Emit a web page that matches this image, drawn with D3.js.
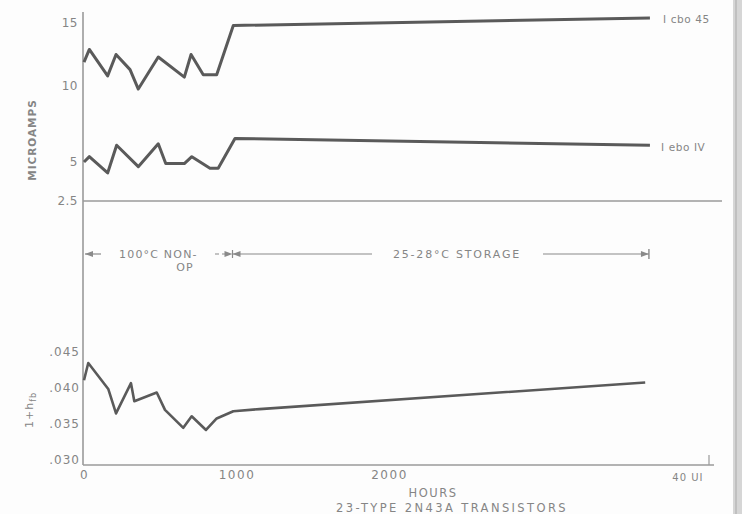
<!DOCTYPE html>
<html>
<head>
<meta charset="utf-8">
<script src="https://cdn.jsdelivr.net/npm/d3@7"></script>
<style>
  html, body { margin: 0; padding: 0; background: #fdfdfd; }
  svg { display: block; }
  text { font-family: "DejaVu Sans", "Liberation Sans", sans-serif; fill: #858585; }
</style>
</head>
<body>
<svg id="chart" width="742" height="514"></svg>
<script>
// Leakage currents (microamps) and 1+h_fb versus hours, 23 type 2N43A transistors
const hoursIcbo = [0, 35, 155, 210, 302, 356, 487, 658, 702, 782, 870, 979, 3711];
const icbo45 = [11.9, 12.9, 10.8, 12.5, 11.3, 9.8, 12.3, 10.7, 12.5, 10.9, 10.9, 14.8, 15.4];

const hoursIebo = [0, 35, 155, 214, 356, 487, 536, 658, 707, 826, 880, 990, 3711];
const iebo1 = [5.0, 5.35, 4.3, 6.1, 4.7, 6.2, 4.9, 4.9, 5.35, 4.6, 4.6, 6.55, 6.1];

const hoursHfb = [0, 28, 159, 210, 308, 330, 477, 531, 651, 706, 800, 870, 979, 1151, 3680];
const hfb = [0.0410, 0.0434, 0.0398, 0.0364, 0.0406, 0.0381, 0.0393, 0.0369, 0.0344, 0.0360, 0.0341, 0.0357, 0.0367, 0.0370, 0.0407];

const microampTicks = [15, 10, 5, 2.5];
const microampLabels = ["15", "10", "5", "2.5"];
const hfbTicks = [0.045, 0.040, 0.035, 0.030];
const hfbLabels = [".045", ".040", ".035", ".030"];
const hourTicks = [0, 1000, 2000];
const hourLabels = ["0", "1000", "2000"];

const seriesNames = ["I cbo 45", "I ebo IV"];

const svg = d3.select("#chart");

// scales
const x = d3.scaleLinear().domain([0, 2000]).range([84, 389]);
// the lettered current scale is hand-spaced, so it is piecewise linear
const yTop = d3.scaleLinear().domain([2.5, 5, 10, 15]).range([201, 162, 86, 23]);
const yBot = d3.scaleLinear().domain([0.030, 0.045]).range([459.5, 351.5]);

const lineCol = "#5a5a5a";
const axisCol = "#9a9a9a";

// right edge strip
svg.append("rect").attr("x", 733).attr("y", 0).attr("width", 9).attr("height", 514).attr("fill", "#d6d6d6");
svg.append("line").attr("x1", 736).attr("x2", 736).attr("y1", 0).attr("y2", 514)
  .attr("stroke", "#b8b8b8").attr("stroke-width", 1.5);

// long vertical axis shared by both panels
svg.append("line").attr("x1", 83).attr("x2", 83).attr("y1", 12).attr("y2", 465)
  .attr("stroke", axisCol).attr("stroke-width", 1.6);

// 2.5 microamp baseline
svg.append("line").attr("x1", 83).attr("x2", 722).attr("y1", yTop(2.5)).attr("y2", yTop(2.5))
  .attr("stroke", axisCol).attr("stroke-width", 1.6);

// hours baseline
svg.append("line").attr("x1", 83).attr("x2", 714).attr("y1", 465).attr("y2", 465)
  .attr("stroke", axisCol).attr("stroke-width", 1.6);
svg.append("line").attr("x1", 709).attr("x2", 709).attr("y1", 455).attr("y2", 465)
  .attr("stroke", axisCol).attr("stroke-width", 1.2);

// left axis labels (top panel)
const axTop = svg.append("g").attr("transform", "translate(83,0)")
  .call(d3.axisLeft(yTop).tickValues(microampTicks).tickSize(0).tickPadding(5)
    .tickFormat((d, i) => microampLabels[i]));
axTop.select(".domain").remove();
axTop.selectAll("text").attr("font-size", 12).attr("fill", "#858585")
  .style("font-family", "'DejaVu Sans', sans-serif").attr("letter-spacing", 0.5);

// left axis labels (bottom panel)
const axBot = svg.append("g").attr("transform", "translate(83,0)")
  .call(d3.axisLeft(yBot).tickValues(hfbTicks).tickSize(0).tickPadding(3)
    .tickFormat((d, i) => hfbLabels[i]));
axBot.select(".domain").remove();
axBot.selectAll("text").attr("font-size", 12).attr("fill", "#8a8a8a")
  .style("font-family", "'DejaVu Sans', sans-serif").attr("letter-spacing", 1);

// hours axis labels
const axX = svg.append("g").attr("transform", "translate(0,465)")
  .call(d3.axisBottom(x).tickValues(hourTicks).tickSize(0).tickPadding(5)
    .tickFormat((d, i) => hourLabels[i]));
axX.select(".domain").remove();
axX.selectAll("text").attr("font-size", 12).attr("fill", "#858585")
  .style("font-family", "'DejaVu Sans', sans-serif").attr("letter-spacing", 1.5);

svg.append("text").attr("x", x(3960)).attr("y", 481).attr("text-anchor", "middle")
  .attr("font-size", 10).attr("fill", "#a5a5a5").attr("letter-spacing", 1).text("40 UI");

// axis titles
svg.append("text").attr("transform", "translate(36,140) rotate(-90)").attr("text-anchor", "middle")
  .attr("font-size", 10.5).attr("font-weight", "bold").attr("fill", "#8c8c8c")
  .attr("letter-spacing", 1).text("MICROAMPS");

const hLab = svg.append("text").attr("transform", "translate(33,410) rotate(-90)")
  .attr("text-anchor", "middle").attr("font-size", 11).attr("fill", "#9a9a9a").attr("letter-spacing", 1);
hLab.append("tspan").text("1+h");
hLab.append("tspan").attr("font-size", 8).attr("dy", 3).text("fb");

svg.append("text").attr("x", 433).attr("y", 497).attr("text-anchor", "middle")
  .attr("font-size", 11.5).attr("fill", "#7c7c7c").attr("letter-spacing", 1.5).text("HOURS");
svg.append("text").attr("x", 452).attr("y", 512).attr("text-anchor", "middle")
  .attr("font-size", 11.5).attr("fill", "#7c7c7c").attr("letter-spacing", 2.4)
  .text("23-TYPE 2N43A TRANSISTORS");

// data lines
const lineTop = (hrs) => d3.line().x((d, i) => x(hrs[i])).y(d => yTop(d));
svg.append("path").datum(icbo45).attr("d", lineTop(hoursIcbo))
  .attr("fill", "none").attr("stroke", lineCol).attr("stroke-width", 3).attr("stroke-linejoin", "round");
svg.append("path").datum(iebo1).attr("d", lineTop(hoursIebo))
  .attr("fill", "none").attr("stroke", lineCol).attr("stroke-width", 3).attr("stroke-linejoin", "round");
svg.append("path").datum(hfb)
  .attr("d", d3.line().x((d, i) => x(hoursHfb[i])).y(d => yBot(d)))
  .attr("fill", "none").attr("stroke", lineCol).attr("stroke-width", 2.6).attr("stroke-linejoin", "round");

// series labels at the line ends
svg.append("text").attr("x", 663).attr("y", yTop(icbo45[icbo45.length - 1]) + 5)
  .attr("font-size", 10.5).attr("fill", "#7a7a7a").attr("letter-spacing", 0.6).text(seriesNames[0]);
svg.append("text").attr("x", 661).attr("y", yTop(iebo1[iebo1.length - 1]) + 6)
  .attr("font-size", 10.5).attr("fill", "#a0a0a0").attr("letter-spacing", 0.6).text(seriesNames[1]);

// test-condition spans
const spanY = 254;
const ann = svg.append("g").attr("stroke", "#8a8a8a").attr("fill", "#8a8a8a");
function arrowHead(px, dir) {
  ann.append("path").attr("stroke", "none")
    .attr("d", `M${px},${spanY} l${-dir * 8},-3 l0,6 z`);
}
const xSplit = x(1000) - 4;
const xEnd = x(3711) - 1;
// 100 C non-operating span
ann.append("line").attr("x1", 85).attr("x2", 101).attr("y1", spanY).attr("y2", spanY).attr("stroke-width", 1.2);
arrowHead(85, -1);
ann.append("line").attr("x1", 215).attr("x2", 228).attr("y1", spanY).attr("y2", spanY)
  .attr("stroke-width", 1.2).attr("stroke-dasharray", "4,3");
arrowHead(xSplit, 1);
ann.append("line").attr("x1", xSplit).attr("x2", xSplit).attr("y1", spanY - 4).attr("y2", spanY + 4).attr("stroke-width", 1.2);
arrowHead(xSplit, -1);
// storage span
ann.append("line").attr("x1", xSplit).attr("x2", 372).attr("y1", spanY).attr("y2", spanY).attr("stroke-width", 1.2);
ann.append("line").attr("x1", 543).attr("x2", xEnd).attr("y1", spanY).attr("y2", spanY).attr("stroke-width", 1.2);
arrowHead(xEnd, 1);
ann.append("line").attr("x1", xEnd).attr("x2", xEnd).attr("y1", spanY - 5).attr("y2", spanY + 5).attr("stroke-width", 1.4);

svg.append("text").attr("x", 119).attr("y", spanY + 4).attr("font-size", 11).attr("fill", "#858585")
  .attr("letter-spacing", 1.2).text("100°C NON-");
svg.append("text").attr("x", 185).attr("y", spanY + 17).attr("text-anchor", "middle").attr("font-size", 11)
  .attr("fill", "#909090").attr("letter-spacing", 1.2).text("OP");
svg.append("text").attr("x", 457).attr("y", spanY + 4).attr("text-anchor", "middle").attr("font-size", 11)
  .attr("fill", "#858585").attr("letter-spacing", 1.8).text("25-28°C STORAGE");
</script>
</body>
</html>
